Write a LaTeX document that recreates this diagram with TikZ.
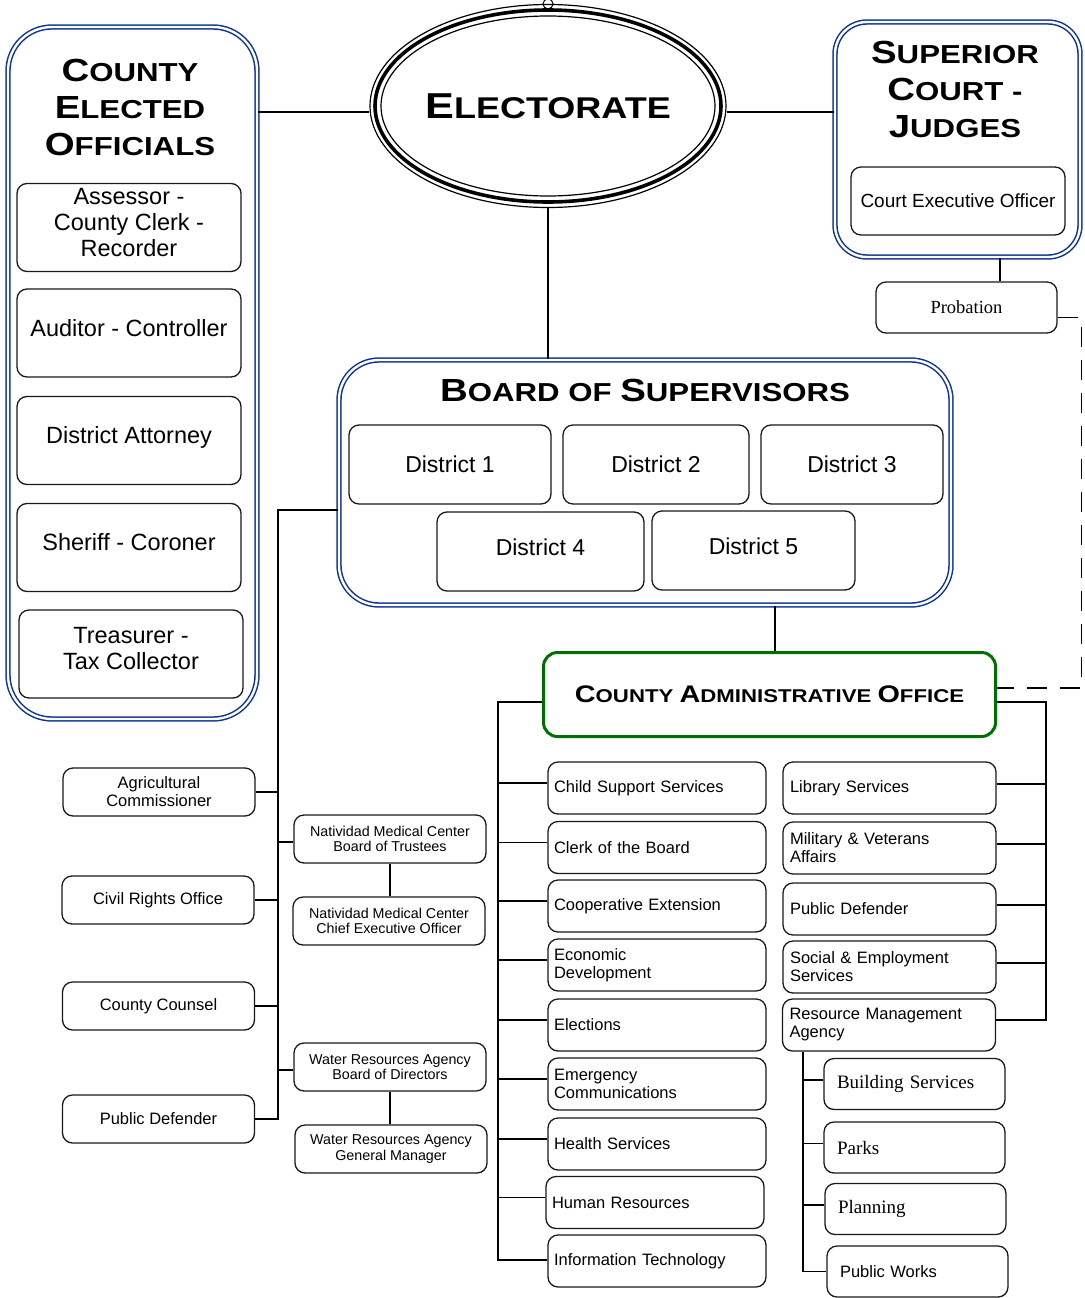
\documentclass[tikz,border=0pt]{standalone}
\usepackage{fontspec}
\setmainfont{Liberation Sans}
\newfontfamily\timesfont{Liberation Serif}
\newfontfamily\copperfont[FakeStretch=1.2]{Liberation Sans}
\usetikzlibrary{shapes.geometric}
\definecolor{boardblue}{RGB}{16,52,150}
\definecolor{caogreen}{RGB}{0,110,0}
\def\hbig{32}
\newcommand\capword[2]{{\fontsize{\hbig}{37}\selectfont #1}#2}

\begin{document}
\begin{tikzpicture}[x=1pt,y=-1pt,
box/.style={draw=black!90,line width=1.3pt,rounded corners=10pt,align=center,inner sep=4pt},
bigbox/.style={draw=boardblue,double=white,double distance=2.4pt,line width=1.5pt,rounded corners=38pt,inner sep=0pt},
heading/.style={font=\copperfont\bfseries\fontsize{26}{37}\selectfont,align=center},
office/.style={box,minimum width=224pt,minimum height=88pt,text depth=11pt,font=\fontsize{23.5}{26}\selectfont},
district/.style={box,minimum height=79pt,font=\fontsize{23}{26}\selectfont},
smallbox/.style={box,minimum width=192pt,minimum height=48pt,font=\fontsize{16.5}{18}\selectfont},
trustbox/.style={box,minimum width=192pt,minimum height=48pt,font=\fontsize{14.3}{15.5}\selectfont},
deptL/.style={box,align=left,text width=206pt,inner xsep=6pt,minimum height=52pt,font=\fontsize{16.5}{18}\selectfont},
deptR/.style={box,align=left,text width=199pt,inner xsep=7pt,minimum height=52pt,font=\fontsize{16.5}{18}\selectfont},
rmasub/.style={box,align=left,text width=155pt,inner xsep=13pt,minimum height=51pt,font=\timesfont\fontsize{19}{21}\selectfont},
conn/.style={line width=1.4pt}]

\useasboundingbox (0,0) rectangle (1084,1298);

% top row
\node[bigbox,minimum width=249pt,minimum height=692pt,rounded corners=44pt] (county) at (132.5,373) {};
\node[heading] (hcounty) at (130,107) {\capword{C}{OUNTY}\\\capword{E}{LECTED}\\\capword{O}{FFICIALS}};

\node[office] (assessor) at (129,227.5) {Assessor -\\County Clerk -\\Recorder};
\node[office] (auditor) at (129,333) {Auditor - Controller};
\node[office] (da) at (129,440.5) {District Attorney};
\node[office] (sheriff) at (129,547.5) {Sheriff - Coroner};
\node[office] (treasurer) at (131,654) {Treasurer -\\Tax Collector};

\node[ellipse,draw,line width=1.2pt,minimum width=356pt,minimum height=203pt,inner sep=0pt,
  font=\copperfont\bfseries\fontsize{30}{37}\selectfont\def\hbig{36}] (electorate) at (548,106) {\capword{E}{LECTORATE}};
\draw[line width=3.6pt] (electorate.center) ellipse [x radius=173pt, y radius=96pt];
\draw[line width=1.2pt] (electorate.center) ellipse [x radius=167pt, y radius=90pt];
\draw[line width=1pt] (electorate.north) circle [radius=5pt];

\node[bigbox,minimum width=245pt,minimum height=235pt,rounded corners=32pt] (superior) at (957.5,139.5) {};
\node[heading] (hsuperior) at (955,89) {\capword{S}{UPERIOR}\\\capword{C}{OURT -}\\\capword{J}{UDGES}};
\node[box,minimum width=214pt,minimum height=68pt,font=\fontsize{19}{22}\selectfont] (ceo) at (958,201) {Court Executive Officer};
\node[box,minimum width=181pt,minimum height=51pt,font=\timesfont\fontsize{18.5}{21}\selectfont] (probation) at (966.5,307.5) {Probation};

% board of supervisors
\node[bigbox,minimum width=612pt,minimum height=245pt,rounded corners=40pt] (bos) at (645,482.5) {};
\node[heading] (hbos) at (645,390) {\capword{B}{OARD OF} \capword{S}{UPERVISORS}};
\node[district,minimum width=202pt] (d1) at (450,464.5) {District 1};
\node[district,minimum width=186pt] (d2) at (656,464.5) {District 2};
\node[district,minimum width=182pt] (d3) at (852,464.5) {District 3};
\node[district,minimum width=207pt,text depth=9pt] (d4) at (540.5,551.5) {District 4};
\node[district,minimum width=203pt,text depth=9pt] (d5) at (753.5,550.5) {District 5};

\node[draw=caogreen,line width=3pt,rounded corners=14pt,minimum width=452pt,minimum height=84pt,
  font=\copperfont\bfseries\fontsize{18.5}{22}\selectfont\def\hbig{24}] (cao) at (769.5,694.5)
  {\capword{C}{OUNTY} \capword{A}{DMINISTRATIVE} \capword{O}{FFICE}};

% left branch
\node[smallbox] (agri) at (159,792) {Agricultural\\Commissioner};
\node[smallbox] (civil) at (158,900) {Civil Rights Office};
\node[smallbox] (counsel) at (158.5,1006) {County Counsel};
\node[smallbox] (pdleft) at (158.5,1119) {Public Defender};
\node[trustbox] (nmcb) at (390,839) {Natividad Medical Center\\Board of Trustees};
\node[trustbox] (nmcceo) at (389,921) {Natividad Medical Center\\Chief Executive Officer};
\node[trustbox] (wrab) at (390,1067) {Water Resources Agency\\Board of Directors};
\node[trustbox] (wragm) at (391,1149) {Water Resources Agency\\General Manager};

% departments
\node[deptL] (child) at (657,788) {Child Support Services};
\node[deptL] (clerk) at (657,847.5) {Clerk of the Board};
\node[deptL] (coop) at (657,906) {Cooperative Extension};
\node[deptL] (econ) at (657,965) {Economic\\Development};
\node[deptL] (elections) at (657,1025) {Elections};
\node[deptL] (emerg) at (657,1084) {Emergency\\Communications};
\node[deptL] (health) at (657,1144) {Health Services};
\node[deptL] (hr) at (655,1202.5) {Human Resources};
\node[deptL] (it) at (657,1261) {Information Technology};

\node[deptR] (lib) at (889.5,788) {Library Services};
\node[deptR] (mil) at (889.5,848) {Military \& Veterans\\Affairs};
\node[deptR] (pdr) at (889.5,909) {Public Defender};
\node[deptR] (social) at (889.5,967) {Social \& Employment\\Services};
\node[deptR] (rma) at (889,1025) {Resource Management\\Agency};

\node[rmasub] (bldg) at (914.5,1084) {Building Services};
\node[rmasub] (parks) at (914.5,1147.5) {Parks};
\node[rmasub] (plan) at (915.5,1209) {Planning};
\node[rmasub,font=\fontsize{16.5}{18}\selectfont] (pworks) at (917.5,1271.5) {Public Works};

% connectors
\draw[conn] ([yshift=-6pt]electorate.west) -- ([yshift=-6pt]electorate.west -| county.east);
\draw[conn] ([yshift=-6pt]electorate.east) -- ([yshift=-6pt]electorate.east -| superior.west);
\draw[conn] (electorate.south) -- (electorate.south |- bos.north);
\draw[conn] ([xshift=33.5pt]probation.north) -- ([xshift=33.5pt]probation.north |- superior.south);
\draw[conn,dash pattern=on 20pt off 13pt] ([yshift=-10pt]probation.east) -- ++(24,0) |- ([yshift=6.5pt]cao.east);
\draw[conn] ([xshift=5.5pt]cao.north) -- ([xshift=5.5pt]cao.north |- bos.south);

\coordinate (ltrunk) at (278,510);
\draw[conn] (ltrunk -| bos.west) -- (ltrunk) |- (pdleft.east);
\foreach \n in {agri,civil,counsel}
  \draw[conn] (\n.east) -- (\n.east -| ltrunk);
\foreach \n in {nmcb,wrab}
  \draw[conn] ([yshift=-3pt]\n.west) -- ([yshift=-3pt]\n.west -| ltrunk);
\draw[conn] (nmcb.south) -- (nmcb.south |- nmcceo.north);
\draw[conn] (wrab.south) -- (wrab.south |- wragm.north);

\coordinate (ctrunk) at (498,702);
\draw[conn] (ctrunk -| cao.west) -- (ctrunk) |- ([yshift=1pt]it.west);
\foreach \n in {child,clerk,coop,econ,elections,emerg,health,hr}
  \draw[conn] ([yshift=5pt]\n.west) -- ([yshift=5pt]\n.west -| ctrunk);

\coordinate (rtrunk) at (1046,702);
\draw[conn] (rtrunk -| cao.east) -- (rtrunk) |- ([yshift=5pt]rma.east);
\foreach \n in {lib,mil,pdr,social}
  \draw[conn] ([yshift=4pt]\n.east) -- ([yshift=4pt]\n.east -| rtrunk);

\coordinate (mtrunk) at ([xshift=-86pt]rma.south);
\draw[conn] (mtrunk) |- (pworks.west);
\foreach \n in {bldg,parks,plan}
  \draw[conn] ([yshift=4pt]\n.west) -- ([yshift=4pt]\n.west -| mtrunk);

\end{tikzpicture}
\end{document}
